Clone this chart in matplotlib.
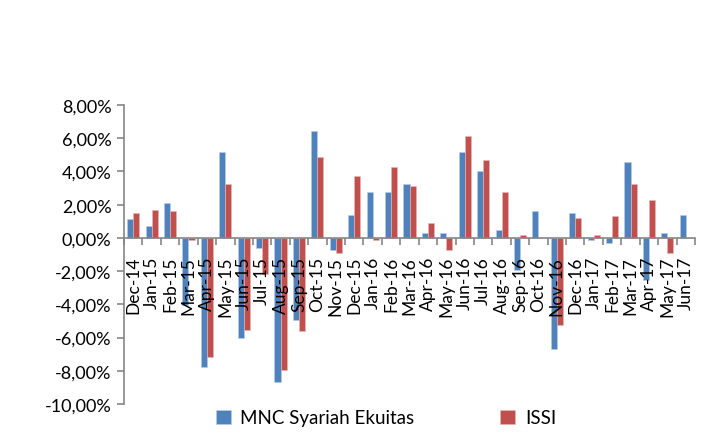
import numpy as np
import matplotlib.pyplot as plt
from matplotlib.ticker import FuncFormatter, MultipleLocator

bulan = ["Dec-14", "Jan-15", "Feb-15", "Mar-15", "Apr-15", "May-15", "Jun-15", "Jul-15",
         "Aug-15", "Sep-15", "Oct-15", "Nov-15", "Dec-15", "Jan-16", "Feb-16", "Mar-16",
         "Apr-16", "May-16", "Jun-16", "Jul-16", "Aug-16", "Sep-16", "Oct-16", "Nov-16",
         "Dec-16", "Jan-17", "Feb-17", "Mar-17", "Apr-17", "May-17", "Jun-17"]

mnc = [1.11, 0.73, 2.08, -4.07, -7.75, 5.17, -6.01, -0.62,
       -8.69, -4.92, 6.42, -0.70, 1.39, 2.75, 2.75, 3.23,
       0.32, 0.32, 5.17, 4.00, 0.45, -1.96, 1.60, -6.66,
       1.49, -0.12, -0.32, 4.58, -2.54, 0.32, 1.39]

issi = [1.49, 1.68, 1.60, -0.12, -7.16, 3.23, -5.53, -2.20,
        -7.93, -5.61, 4.87, -0.90, 3.72, -0.10, 4.28, 3.13,
        0.91, -0.70, 6.11, 4.68, 2.75, 0.16, 0.0, -5.25,
        1.21, 0.16, 1.31, 3.23, 2.26, -0.90, 0.0]

plt.rcParams['font.family'] = ['Lato', 'DejaVu Sans']

fig = plt.figure(figsize=(7.12, 4.39), dpi=100)
ax = fig.add_axes([124 / 712, 34 / 439, 571 / 712, 299 / 439])

x = np.arange(len(bulan))
w = 0.33
ax.bar(x - w / 2, mnc, w, color="#4F81BD", edgecolor="#B9CDE5", linewidth=0.4,
       label="MNC Syariah Ekuitas")
ax.bar(x + w / 2, issi, w, color="#C0504D", edgecolor="#E6B9B8", linewidth=0.4,
       label="ISSI")

ax.set_ylim(-10, 8)
ax.set_xlim(-0.5, len(bulan) - 0.5)
ax.yaxis.set_major_locator(MultipleLocator(2))
ax.yaxis.set_major_formatter(FuncFormatter(lambda v, p: f"{v:.2f}%".replace(".", ",")))

for s in ["top", "right"]:
    ax.spines[s].set_visible(False)
ax.spines["left"].set_color("#868686")
ax.spines["bottom"].set_color("#868686")
ax.spines["bottom"].set_position(("data", 0))
ax.spines["left"].set_linewidth(1.2)
ax.spines["bottom"].set_linewidth(1.2)

ax.set_xticks(x)
ax.set_xticklabels(bulan, rotation=90, fontsize=12.5)
ax.set_xticks(np.arange(-0.5, len(bulan)), minor=True)
ax.tick_params(axis="x", which="major", length=0, pad=13)
ax.tick_params(axis="x", which="minor", length=5, color="#868686", width=1.2)
ax.tick_params(axis="y", length=5, color="#868686", width=1.2, labelsize=13, pad=4)

fig.legend(loc="lower center", bbox_to_anchor=(0.542, -0.012), ncol=2, frameon=False,
           fontsize=13.5, handlelength=0.8, handleheight=0.8, columnspacing=4.6,
           handletextpad=0.5)

fig.savefig("out.png", dpi=100)
